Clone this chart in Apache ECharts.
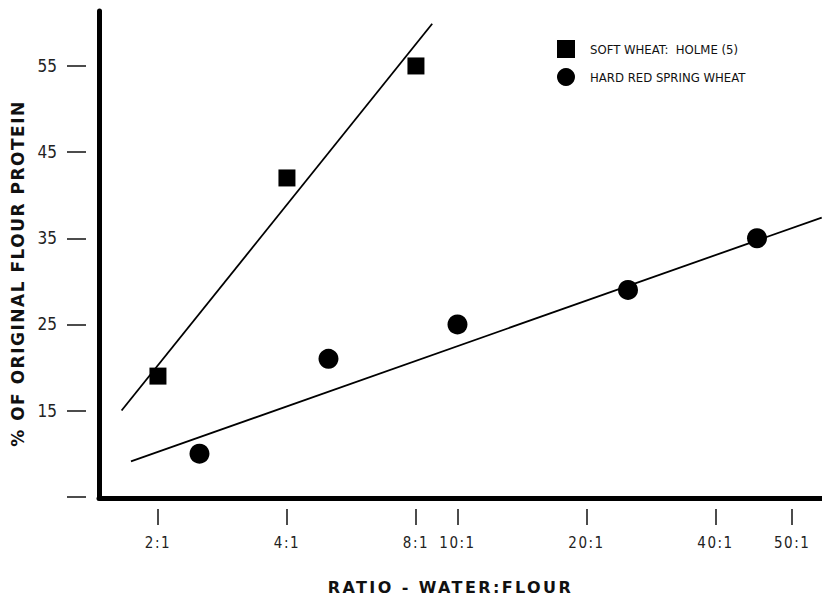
<!DOCTYPE html>
<html>
<head>
<meta charset="utf-8">
<script src="https://cdn.jsdelivr.net/npm/echarts@6/dist/echarts.min.js"></script>
<style>
  html, body { margin: 0; padding: 0; background: #fff; }
  #chart { width: 822px; height: 596px; }
</style>
</head>
<body>
<div id="chart"></div>
<script>
// soft wheat (Holme) points: [ratio, % protein]
var softWheat = [[2, 19], [4, 42], [8, 55]];
// hard red spring wheat points
var hardWheat = [[2.5, 10], [5, 21], [10, 25], [25, 29], [50, 35]];
// hand drawn fit lines, end points
var softFit = [[1.645, 15], [8.73, 59.9]];
var hardFit = [[1.73, 9.1], [70.8, 37.4]];

// x ticks as printed (the 50:1 mark sits right of where 50 falls on the scale)
var xTickValues = [2, 4, 8, 10, 20, 40, 60.4];
var xTickLabels = ['2:1', '4:1', '8:1', '10:1', '20:1', '40:1', '50:1'];
var yTickValues = [5, 15, 25, 35, 45, 55];
var yLabelValues = [15, 25, 35, 45, 55];

var xMin = 1.457, xMax = 70.9;
var yMin = 4.85, yMax = 61.38;

var narrow = '"Liberation Sans Narrow", "DejaVu Sans Condensed", sans-serif';

var myChart = echarts.init(document.getElementById('chart'), null, {renderer: 'svg'});
var option = {
    animation: false,
    backgroundColor: '#fff',
    grid: {left: 99, right: 0, top: 11, bottom: 98, outerBoundsMode: 'none'},
    legend: {
        orient: 'vertical',
        left: 552,
        top: 35,
        itemGap: 10,
        itemWidth: 18,
        itemHeight: 18,
        data: ['SOFT WHEAT:  HOLME (5)', 'HARD RED SPRING WHEAT'],
        textStyle: {fontFamily: narrow, fontSize: 13, color: '#111', padding: [0, 0, 0, 10]}
    },
    xAxis: [
        {
            type: 'log', logBase: 2, min: xMin, max: xMax,
            axisLine: {lineStyle: {color: '#000', width: 5}},
            axisTick: {show: false},
            axisLabel: {show: false},
            splitLine: {show: false}
        },
        {
            type: 'log', logBase: 2, min: xMin, max: xMax,
            position: 'bottom',
            offset: 11,
            axisLine: {show: false},
            axisTick: {show: true, length: 16, customValues: xTickValues,
                lineStyle: {color: '#111', width: 1.5}},
            axisLabel: {
                customValues: xTickValues,
                margin: 26,
                fontFamily: narrow, fontSize: 15, color: '#222',
                formatter: function (v) {
                    for (var i = 0; i < xTickValues.length; i++) {
                        if (Math.abs(xTickValues[i] - v) < 0.01) return xTickLabels[i];
                    }
                    return '';
                }
            },
            splitLine: {show: false},
            name: 'RATIO - WATER:FLOUR',
            nameLocation: 'middle',
            nameGap: 70,
            nameTextStyle: {fontFamily: 'DejaVu Sans', fontWeight: 'bold', fontSize: 16, color: '#111',
                padding: [0, 20, 0, 0]}
        }
    ],
    yAxis: [
        {
            type: 'value', min: yMin, max: yMax,
            axisLine: {show: true, lineStyle: {color: '#000', width: 5}},
            axisTick: {show: false},
            axisLabel: {show: false},
            splitLine: {show: false}
        },
        {
            type: 'value', min: yMin, max: yMax,
            position: 'left',
            offset: 13,
            axisLine: {show: false},
            axisTick: {show: true, length: 19, customValues: yTickValues,
                lineStyle: {color: '#111', width: 1.5}},
            axisLabel: {
                customValues: yLabelValues,
                margin: 29,
                fontFamily: narrow, fontSize: 17, color: '#222'
            },
            splitLine: {show: false},
            name: '% OF ORIGINAL FLOUR PROTEIN',
            nameLocation: 'middle',
            nameGap: 58,
            nameTextStyle: {fontFamily: 'DejaVu Sans', fontWeight: 'bold', fontSize: 17, color: '#111',
                padding: [0, 38, 0, 0]}
        }
    ],
    series: [
        {
            name: 'soft fit', type: 'line', data: softFit,
            showSymbol: false, symbol: 'none',
            lineStyle: {color: '#000', width: 1.8}, z: 1
        },
        {
            name: 'hard fit', type: 'line', data: hardFit,
            showSymbol: false, symbol: 'none',
            lineStyle: {color: '#000', width: 1.8}, z: 1
        },
        {
            name: 'SOFT WHEAT:  HOLME (5)', type: 'scatter', data: softWheat,
            symbol: 'rect', symbolSize: 17,
            itemStyle: {color: '#000', opacity: 1}, z: 3
        },
        {
            name: 'HARD RED SPRING WHEAT', type: 'scatter', data: hardWheat,
            symbol: 'circle', symbolSize: 20,
            itemStyle: {color: '#000', opacity: 1}, z: 3
        }
    ]
};
myChart.setOption(option);

// the printed titles and ratio labels are widely spaced
var spacing = {'RATIO - WATER:FLOUR': '2.4px', '% OF ORIGINAL FLOUR PROTEIN': '1.5px'};
document.querySelectorAll('#chart text').forEach(function (t) {
    var s = t.textContent;
    if (spacing[s]) t.style.letterSpacing = spacing[s];
    else if (/:1$/.test(s)) t.style.letterSpacing = '1.5px';
});
</script>
</body>
</html>
